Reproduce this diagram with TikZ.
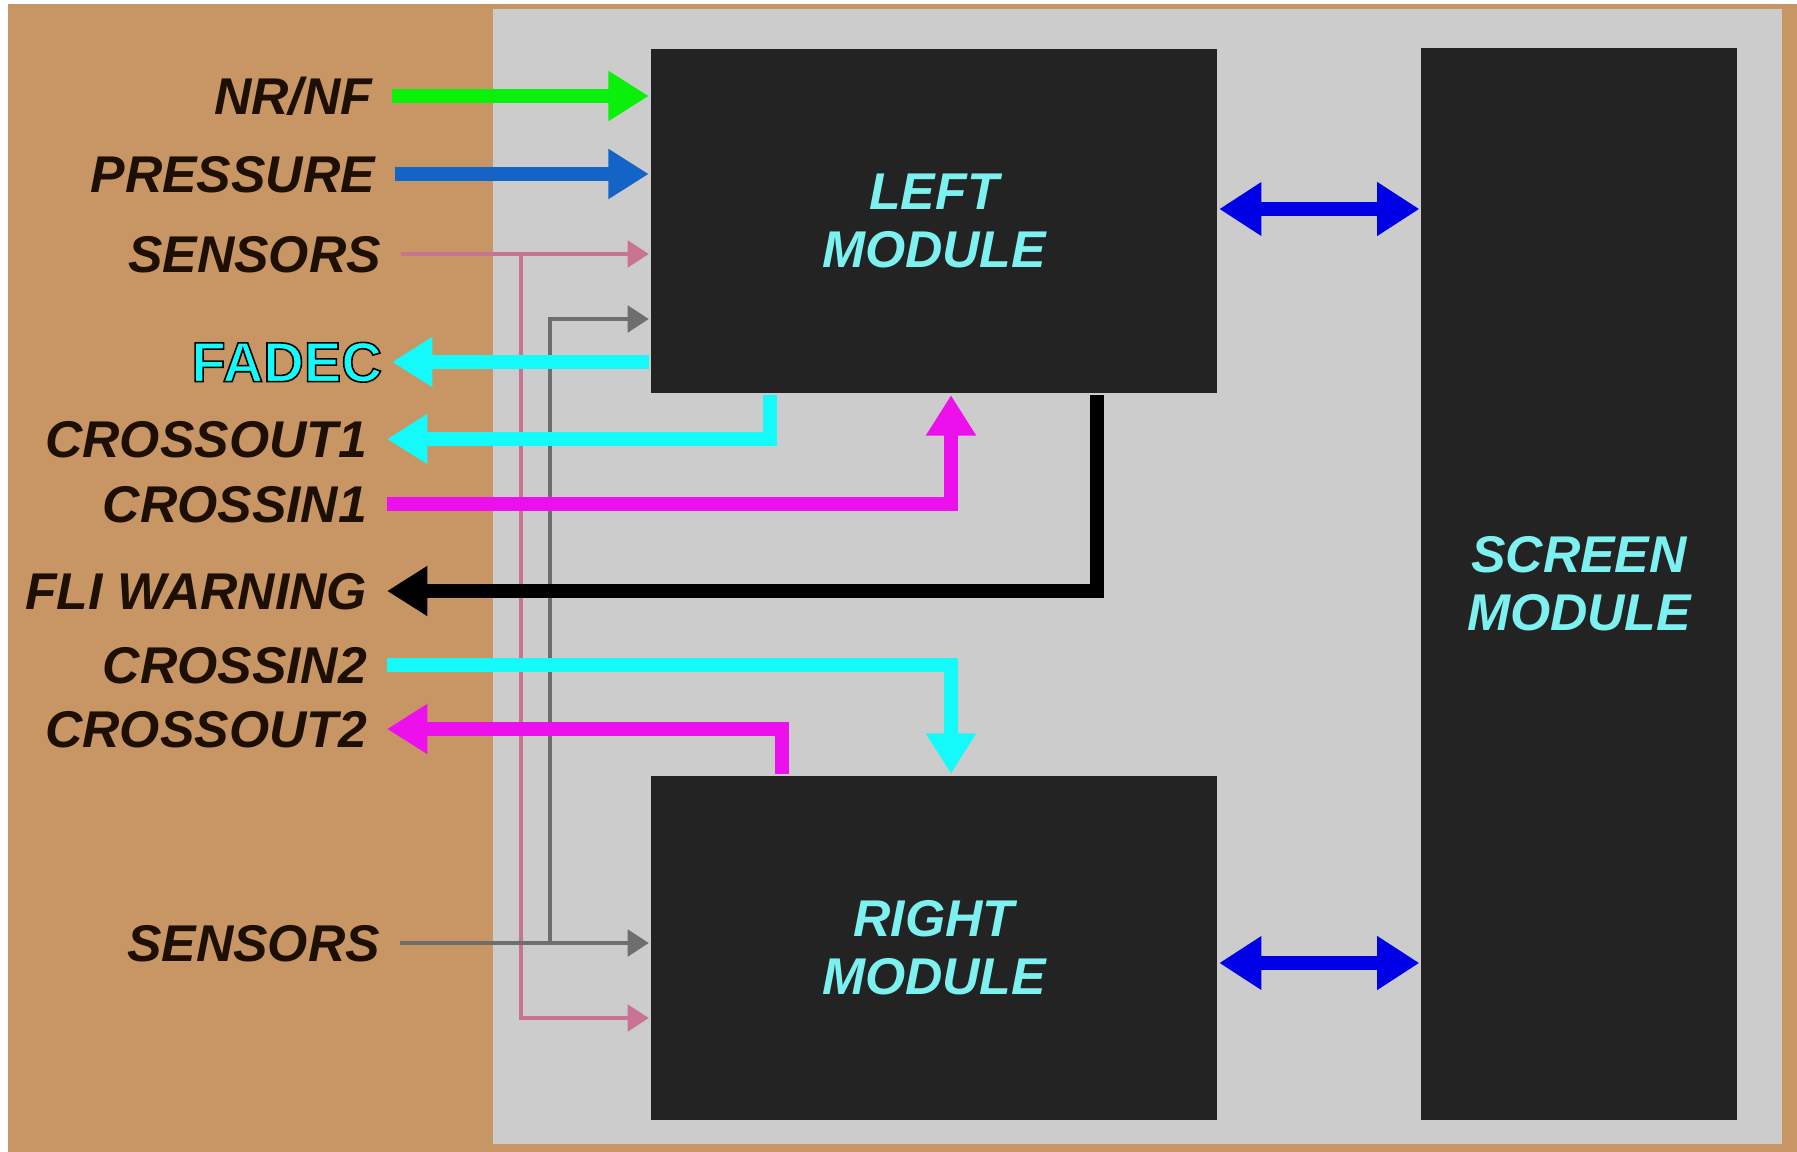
\documentclass[tikz,border=0pt]{standalone}
\usepackage{fontspec}
\setmainfont{Liberation Sans}
\usetikzlibrary{arrows.meta,calc}
\definecolor{tanbg}{RGB}{200,150,100}
\definecolor{panel}{RGB}{204,204,204}
\definecolor{boxbg}{RGB}{35,35,35}
\definecolor{modtxt}{RGB}{125,240,240}
\definecolor{lbltxt}{RGB}{30,15,5}
\definecolor{sigcyan}{RGB}{20,250,250}
\definecolor{sigmag}{RGB}{236,16,236}
\definecolor{siggreen}{RGB}{10,240,10}
\definecolor{sigblue}{RGB}{20,100,200}
\definecolor{busblue}{RGB}{0,0,230}
\definecolor{snspink}{RGB}{200,115,145}
\definecolor{snsgray}{RGB}{110,110,110}
% cyan letters with a dark rim
\newcommand\outlined[1]{\special{pdf:literal direct 0 0 0 RG 0.45 w 2 Tr}#1\special{pdf:literal direct 0 Tr}}

\begin{document}
\begin{tikzpicture}[x=0.01cm,y=-0.01cm,
    module/.style={fill=boxbg,draw=white!80!black,line width=0.6pt,inner sep=0pt,
                   font=\fontsize{14.7}{16.5}\selectfont\bfseries\itshape,
                   text=modtxt,align=center},
    lbl/.style={anchor=east,inner sep=0pt,outer xsep=0.2cm,text depth=0pt,
                font=\fontsize{14.7}{16.5}\selectfont\bfseries\itshape,text=lbltxt},
    sig/.style={line width=4pt,-{Triangle[length=11.5pt,width=13.5pt]}},
    feed/.style={line width=1.1pt,-{Triangle[length=6pt,width=7.5pt]}},
    bus/.style={line width=4pt,{Triangle[length=12pt,width=14.5pt]}-{Triangle[length=12pt,width=14.5pt]}}]
  \useasboundingbox (0,0) rectangle (1797,1152);
  \fill[white] (0,0) rectangle (1797,1152);
  \fill[tanbg] (8,4) rectangle (1797,1152);
  \fill[panel] (493,9) rectangle (1782,1144);

  \node[module,minimum width=5.68cm,minimum height=3.46cm] (lm) at (934,221) {LEFT\\MODULE};
  \node[module,minimum width=5.68cm,minimum height=3.46cm] (rm) at (934,948) {RIGHT\\MODULE};
  \node[module,minimum width=3.17cm,minimum height=10.73cm] (sm) at (1579,584) {SCREEN\\MODULE};

  \node[lbl] (nrnf) at (392,96) {NR/NF};
  \node[lbl] (pres) at (395,174) {PRESSURE};
  \node[lbl] (sensA) at (401,254) {SENSORS};
  \node[lbl,text=sigcyan,font=\fontsize{16}{18}\selectfont\bfseries,outer xsep=0.1cm] (fadec) at (392,362) {\outlined{FADEC}};
  \node[lbl] (cout1) at (387,439) {CROSSOUT1};
  \node[lbl] (cin1) at (387,504) {CROSSIN1};
  \node[lbl] (fli) at (387,591) {FLI WARNING};
  \node[lbl] (cin2) at (387,665) {CROSSIN2};
  \node[lbl] (cout2) at (387,729) {CROSSOUT2};
  \node[lbl] (sensB) at (400,943) {SENSORS};

  \coordinate (pj) at (521,1018);
  \coordinate (gj) at (550,319);
  \coordinate (co1) at (770,0);
  \coordinate (co2) at (782,0);
  \coordinate (ci) at (951,0);
  \coordinate (fw) at (1097,0);

  % sensor feeds
  \draw[feed,snspink] (sensA.east) -- (sensA.east -| lm.west);
  \draw[feed,snspink] (sensA.east -| pj) |- (pj -| rm.west);
  \draw[feed,snsgray] (sensB.east) -- (sensB.east -| rm.west);
  \draw[feed,snsgray] (sensB.east -| gj) |- (gj -| lm.west);

  \draw[sig,siggreen] (nrnf.east) -- (nrnf.east -| lm.west);
  \draw[sig,sigblue] (pres.east) -- (pres.east -| lm.west);
  \draw[sig,sigcyan] (fadec.east -| lm.west) -- (fadec.east);
  \draw[sig,sigcyan] (lm.south -| co1) |- (cout1.east);
  \draw[sig,sigmag] (cin1.east) -| (lm.south -| ci);
  \draw[sig,black] (lm.south -| fw) |- (fli.east);
  \draw[sig,sigcyan] (cin2.east) -| (rm.north -| ci);
  \draw[sig,sigmag] (rm.north -| co2) |- (cout2.east);

  \draw[bus,busblue] ($(lm.east)+(0,-12)$) -- ($(lm.east -| sm.west)+(0,-12)$);
  \draw[bus,busblue] ($(rm.east)+(0,15)$) -- ($(rm.east -| sm.west)+(0,15)$);
\end{tikzpicture}
\end{document}
